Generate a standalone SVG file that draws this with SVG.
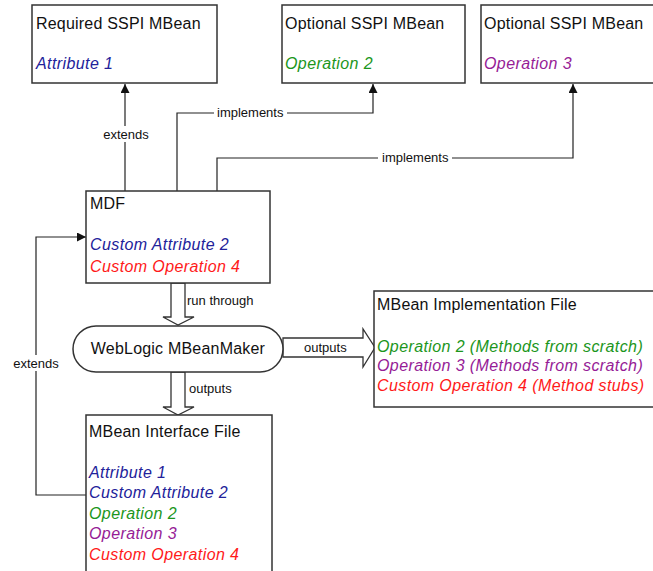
<svg xmlns="http://www.w3.org/2000/svg" width="653" height="571" viewBox="0 0 653 571">
<defs>
<style>
.box{fill:#fff;stroke:#333;stroke-width:1.5}
.title{font-family:"Liberation Sans",Arial,sans-serif;font-size:16px;fill:#111;letter-spacing:0.2px}
.it{font-family:"Liberation Sans",Arial,sans-serif;font-size:16px;font-style:italic;letter-spacing:0.4px}
.blue{fill:#22229a}.green{fill:#1c961c}.purple{fill:#961c96}.red{fill:#ff1a1a}
.lbl{font-family:"Liberation Sans",Arial,sans-serif;font-size:13px;fill:#111}
.ln{fill:none;stroke:#222;stroke-width:1.2}
.blk{fill:#fff;stroke:#333;stroke-width:1.3}
</style>
<marker id="ah" markerWidth="9" markerHeight="9" refX="9" refY="4.5" orient="auto" markerUnits="userSpaceOnUse">
<path d="M0,0 L9,4.5 L0,9 Z" fill="#111"/>
</marker>
</defs>
<rect width="653" height="571" fill="#fff"/>
<g id="connectors">
<path class="ln" d="M125,191 V84" marker-end="url(#ah)"/>
<rect x="100" y="126" width="52" height="16" fill="#fff"/>
<text class="lbl" x="126" y="139" text-anchor="middle">extends</text>
<path class="ln" d="M177,191 V113 H373 V84" marker-end="url(#ah)"/>
<rect x="214" y="105" width="73" height="16" fill="#fff"/>
<text class="lbl" x="217" y="117">implements</text>
<path class="ln" d="M217,191 V158 H573 V84" marker-end="url(#ah)"/>
<rect x="378" y="150" width="74" height="16" fill="#fff"/>
<text class="lbl" x="382" y="162">implements</text>
<path class="ln" d="M86,495 H36 V237 H86" marker-end="url(#ah)"/>
<rect x="10" y="355" width="52" height="16" fill="#fff"/>
<text class="lbl" x="36" y="368" text-anchor="middle">extends</text>
<polygon class="blk" points="171,283 171,317 163,317 178,325 194,317 185,317 185,283"/>
<text class="lbl" x="187" y="305">run through</text>
<polygon class="blk" points="283,338 363,338 363,329 375,347.5 363,367 363,357 283,357"/>
<text class="lbl" x="304" y="352">outputs</text>
<polygon class="blk" points="171,372 171,407 163,407 178,415 194,407 185,407 185,372"/>
<text class="lbl" x="189" y="393">outputs</text>
</g>
<g id="required">
<rect class="box" x="32" y="5" width="185" height="78"/>
<text class="title" x="36" y="29">Required SSPI MBean</text>
<text class="it blue" x="36" y="69">Attribute 1</text>
</g>
<g id="optional2">
<rect class="box" x="282" y="5" width="183" height="78"/>
<text class="title" x="285" y="29">Optional SSPI MBean</text>
<text class="it green" x="285" y="69">Operation 2</text>
</g>
<g id="optional3">
<rect class="box" x="481" y="5" width="180" height="78"/>
<text class="title" x="484" y="29">Optional SSPI MBean</text>
<text class="it purple" x="484" y="69">Operation 3</text>
</g>
<g id="mdf">
<rect class="box" x="86" y="191" width="184" height="92"/>
<text class="title" x="90" y="209">MDF</text>
<text class="it blue" x="90" y="250">Custom Attribute 2</text>
<text class="it red" x="90" y="272">Custom Operation 4</text>
</g>
<g id="mbeanmaker">
<rect class="box" x="73" y="326" width="210" height="46" rx="23" ry="23"/>
<text class="title" x="178" y="354" text-anchor="middle">WebLogic MBeanMaker</text>
</g>
<g id="implfile">
<rect class="box" x="374" y="291" width="286" height="116"/>
<text class="title" x="377" y="310">MBean Implementation File</text>
<text class="it green" x="377" y="352">Operation 2 (Methods from scratch)</text>
<text class="it purple" x="377" y="371">Operation 3 (Methods from scratch)</text>
<text class="it red" x="377" y="391">Custom Operation 4 (Method stubs)</text>
</g>
<g id="interfacefile">
<rect class="box" x="86" y="415" width="186" height="170"/>
<text class="title" x="89" y="437">MBean Interface File</text>
<text class="it blue" x="89" y="478">Attribute 1</text>
<text class="it blue" x="89" y="498">Custom Attribute 2</text>
<text class="it green" x="89" y="519">Operation 2</text>
<text class="it purple" x="89" y="539">Operation 3</text>
<text class="it red" x="89" y="560">Custom Operation 4</text>
</g>
</svg>
